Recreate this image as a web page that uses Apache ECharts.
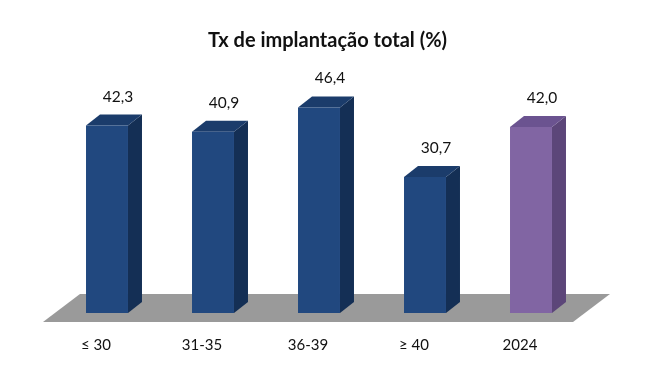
<!DOCTYPE html>
<html>
<head>
<meta charset="utf-8">
<script src="https://cdn.jsdelivr.net/npm/echarts@6/dist/echarts.min.js"></script>
<style>html,body{margin:0;padding:0;background:#fff;}#c{width:655px;height:378px;}</style>
</head>
<body>
<div id="c"></div>
<script>
const categories = ['≤ 30', '31-35', '36-39', '≥ 40', '2024'];
const values = [42.3, 40.9, 46.4, 30.7, 42.0];
const labels = ['42,3', '40,9', '46,4', '30,7', '42,0'];
const titleText = 'Tx de implantação total (%)';

const palettes = {
  blue: { front: '#21487f', side: '#142f55', top: '#1b3c6b' },
  purple: { front: '#8165a3', side: '#5c4679', top: '#6b5390' }
};
const colorKeys = ['blue', 'blue', 'blue', 'blue', 'purple'];

const chart = echarts.init(document.getElementById('c'));
const FONT = 'Lato, "Open Sans", sans-serif';

function renderBar(params, api) {
  const i = api.value(0);
  const v = api.value(1);
  const top = api.coord([i, v]);
  const base = api.coord([i, 0]);
  const band = api.size([1, 0])[0];
  const w = band * 0.396;
  const dx = 14, dy = -11;
  const x0 = top[0] - w / 2, x1 = top[0] + w / 2;
  const yT = top[1], yB = base[1];
  const pal = palettes[colorKeys[params.dataIndex]];
  return {
    type: 'group',
    children: [
      { type: 'polygon', shape: { points: [[x1, yT], [x1 + dx, yT + dy], [x1 + dx, yB + dy], [x1, yB]] }, style: { fill: pal.side } },
      { type: 'polygon', shape: { points: [[x0, yT], [x0 + dx, yT + dy], [x1 + dx, yT + dy], [x1, yT]] }, style: { fill: pal.top } },
      { type: 'rect', shape: { x: x0, y: yT, width: w, height: yB - yT }, style: { fill: pal.front } },
      { type: 'text', style: { text: labels[params.dataIndex], x: top[0] + 11, y: yT - 29, textAlign: 'center', textVerticalAlign: 'middle', fill: '#111', font: '15.5px ' + FONT } }
    ]
  };
}

function renderFloor(params, api) {
  const p0 = api.coord([0, 0]);
  const p4 = api.coord([categories.length - 1, 0]);
  const band = api.size([1, 0])[0];
  const fl = p0[0] - 0.604 * band, fr = p4[0] + 0.396 * band;
  const fy = p0[1] + 9, by = p0[1] - 19, d = 37;
  return {
    type: 'polygon',
    shape: { points: [[fl, fy], [fl + d, by], [fr + d, by], [fr, fy]] },
    style: { fill: '#9a9a9a' }
  };
}

chart.setOption({
  animation: false,
  backgroundColor: '#fff',
  title: {
    text: titleText, left: 'center', top: 26,
    textStyle: { fontFamily: FONT, fontWeight: 'bold', fontSize: 20, color: '#111' }
  },
  grid: { left: 54, right: 71, top: 91.5, bottom: 65 },
  xAxis: {
    type: 'category', data: categories,
    axisLine: { show: false }, axisTick: { show: false },
    axisLabel: { margin: 25, padding: [0, 22, 0, 0], fontFamily: FONT, fontSize: 15, color: '#111' }
  },
  yAxis: { type: 'value', min: 0, max: 50, show: false, splitLine: { show: false } },
  series: [
    { type: 'custom', renderItem: renderFloor, data: [[0, 0]], silent: true, z: 1 },
    { type: 'custom', renderItem: renderBar, data: values.map((v, i) => [i, v]), z: 2 }
  ]
});
</script>
</body>
</html>
